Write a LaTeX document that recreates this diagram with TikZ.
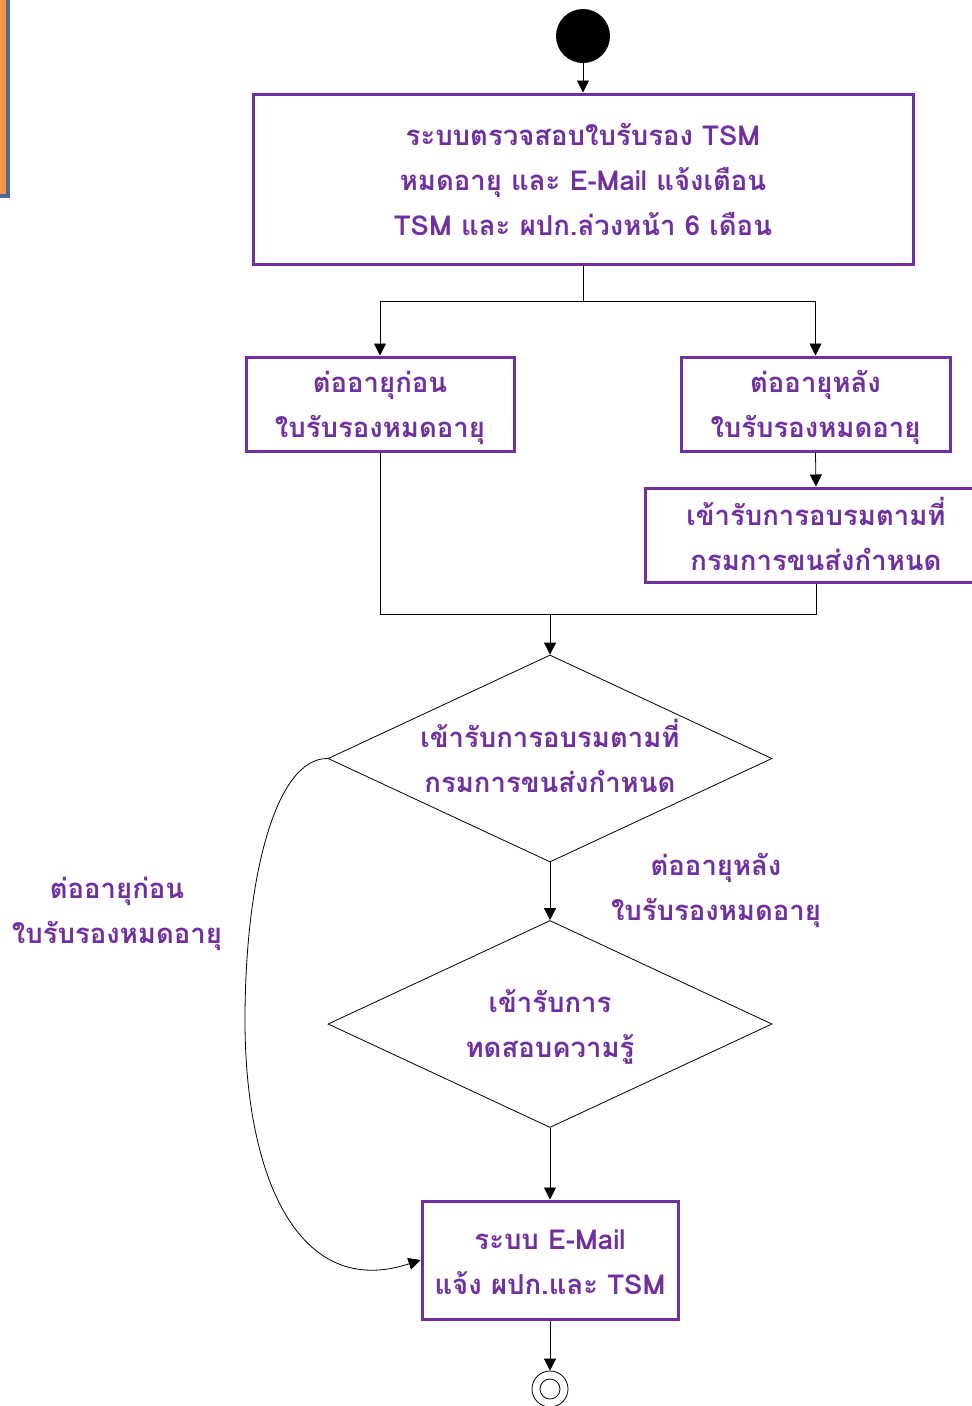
\documentclass[tikz,border=0pt]{standalone}
\usepackage{fontspec}
\newfontfamily\thaifont[Script=Thai]{Loma}
\usetikzlibrary{arrows.meta,shapes.geometric,calc}
\definecolor{purp}{HTML}{7030A0}
\definecolor{orng}{HTML}{F79646}
\definecolor{blu}{HTML}{4F6A9A}
\tikzset{
  txt/.style={text=purp,font=\thaifont\bfseries\fontsize{27.5}{45}\selectfont,align=center,inner sep=0pt},
  pbox/.style={draw=purp,line width=3pt,inner sep=0pt},
  dia/.style={draw=black,line width=0.8pt,diamond,inner sep=0pt,minimum width=444pt,minimum height=207pt},
  con/.style={draw=black,line width=0.8pt},
  arr/.style={con,-{Triangle[length=12pt,width=12pt]}},
}
\begin{document}
\begin{tikzpicture}[x=1pt,y=-1pt]
\useasboundingbox (0,0) rectangle (972,1406);
\clip (0,0) rectangle (972,1406);
\fill[white] (0,0) rectangle (972,1406);
% partial box top-left
\draw[fill=orng,draw=blu,line width=4pt] (-30,-30) rectangle (8,196);
% start
\node[circle,fill=black,minimum size=54pt,inner sep=0pt] (start) at (583,36) {};
% boxes
\node[pbox,minimum width=660pt,minimum height=170pt] (b1) at (583,179) {};
\node[txt] (t1) at (583,179)
  {ระบบตรวจสอบใบรับรอง TSM\\หมดอายุ และ E-Mail แจ้งเตือน\\TSM และ ผปก.ล่วงหน้า 6 เดือน};
\node[pbox,minimum width=268pt,minimum height=94pt] (b2) at (380,404) {};
\node[txt] (t2) at (380,407.5) {ต่ออายุก่อน\\ใบรับรองหมดอายุ};
\node[pbox,minimum width=269pt,minimum height=94pt] (b3) at (815.5,404) {};
\node[txt] (t3) at (815.5,407.5) {ต่ออายุหลัง\\ใบรับรองหมดอายุ};
\node[pbox,minimum width=342pt,minimum height=94pt] (b4) at (816,535) {};
\node[txt] (t4) at (816,534) {เข้ารับการอบรมตามที่\\กรมการขนส่งกำหนด};
\coordinate (j) at (550,614);
\node[dia] (d1) at (550,758.5) {};
\node[txt] (t5) at (550,756) {เข้ารับการอบรมตามที่\\กรมการขนส่งกำหนด};
\node[dia] (d2) at (550,1024) {};
\node[txt] (t6) at (550,1027) {เข้ารับการ\\ทดสอบความรู้};
\node[pbox,minimum width=256pt,minimum height=118pt] (b5) at (550,1260) {};
\node[txt] (t7) at (550,1262.5) {ระบบ E-Mail\\แจ้ง ผปก.และ TSM};
\node[circle,draw=black,line width=0.8pt,minimum size=36pt,inner sep=0pt] (end) at (550,1389) {};
\node[circle,draw=black,line width=0.8pt,minimum size=20pt,inner sep=0pt] (endin) at (550,1389) {};
% labels
\node[txt] (l1) at (716,890.5) {ต่ออายุหลัง\\ใบรับรองหมดอายุ};
\node[txt] (l2) at (117,914) {ต่ออายุก่อน\\ใบรับรองหมดอายุ};
% connectors
\draw[arr] (start) -- (b1.north);
\draw[arr] (b1.south) -- ++(0,36) -| (b2.north);
\draw[arr] (b1.south) -- ++(0,36) -| (b3.north);
\draw[arr] (b3.south) -- (b4.north);
\draw[con] (b2.south) |- (j);
\draw[con] (b4.south) |- (j);
\draw[arr] (j) -- (d1.north);
\draw[arr] (d1.south) -- (d2.north);
\draw[arr] (d2.south) -- (b5.north);
\draw[arr] (b5.south) -- (end.north);
\draw[arr] (d1.west) .. controls (275,758) and (245,880) .. (245,1020)
  .. controls (245,1180) and (300,1300) .. (b5.west);
\end{tikzpicture}
\end{document}
